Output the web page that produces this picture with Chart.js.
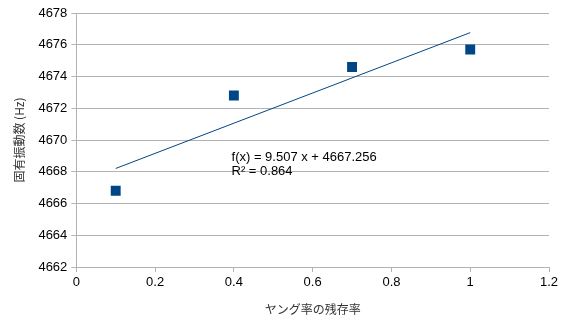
<!DOCTYPE html>
<html>
<head>
<meta charset="utf-8">
<script src="https://cdn.jsdelivr.net/npm/chart.js@4/dist/chart.umd.min.js"></script>
<style>
  html, body { margin: 0; padding: 0; background: #fff; }
  #wrap { width: 564px; height: 328px; position: relative; }
</style>
</head>
<body>
<div id="wrap"><canvas id="freqChart"></canvas></div>
<script>
// measured samples: residual Young's modulus ratio vs natural frequency
const residualRatio = [0.1, 0.4, 0.7, 1.0];
const naturalFreq = [4666.8, 4672.8, 4674.6, 4675.7];

// linear trend line reported with the chart
const trendSlope = 9.507;
const trendIntercept = 4667.256;
const trendR2 = 0.864;

const xTicks = [0, 0.2, 0.4, 0.6, 0.8, 1, 1.2];
const yTicks = [4662, 4664, 4666, 4668, 4670, 4672, 4674, 4676, 4678];

const FONT = "'Liberation Sans', Arial, sans-serif";
const JP_FONT = "'Noto Sans CJK JP', sans-serif";
const BLUE = "#004586";
const GRID = "#b3b3b3";

const xMin = Math.min(...residualRatio);
const xMax = Math.max(...residualRatio);
const trendData = [xMin, xMax].map((x) => ({ x: x, y: trendSlope * x + trendIntercept }));

const equationLabel = {
  id: "equationLabel",
  afterDatasetsDraw(chart) {
    const { ctx } = chart;
    const xs = chart.scales.x;
    const ys = chart.scales.y;
    const px = xs.getPixelForValue(0.394);
    const py = ys.getPixelForValue(4669.33);
    ctx.save();
    ctx.fillStyle = "#000";
    ctx.font = "13px " + FONT;
    ctx.textBaseline = "top";
    ctx.textAlign = "left";
    ctx.fillText("f(x) = " + trendSlope + " x + " + trendIntercept, px, py);
    ctx.fillText("R² = " + trendR2, px, py + 14);
    ctx.restore();
  },
};

new Chart(document.getElementById("freqChart"), {
  type: "scatter",
  data: {
    datasets: [
      {
        label: "固有振動数",
        data: residualRatio.map((x, i) => ({ x: x, y: naturalFreq[i] })),
        pointStyle: "rect",
        pointRadius: 7,
        pointHoverRadius: 7,
        backgroundColor: BLUE,
        borderColor: BLUE,
        borderWidth: 0,
      },
      {
        label: "trend",
        data: trendData,
        showLine: true,
        pointRadius: 0,
        borderColor: BLUE,
        borderWidth: 1,
        fill: false,
      },
    ],
  },
  options: {
    responsive: true,
    maintainAspectRatio: false,
    animation: false,
    layout: { padding: { left: 12, right: 15, top: 13, bottom: 11 } },
    plugins: {
      legend: { display: false },
      tooltip: { enabled: false },
    },
    scales: {
      x: {
        type: "linear",
        min: 0,
        max: 1.2,
        afterBuildTicks: (axis) => { axis.ticks = xTicks.map((v) => ({ value: v })); },
        grid: {
          display: true,
          drawOnChartArea: false,
          drawTicks: true,
          tickLength: 5,
          color: GRID,
        },
        border: { color: GRID },
        ticks: {
          color: "#000",
          font: { family: FONT, size: 13 },
          padding: 3,
          maxRotation: 0,
          callback: (v) => String(v),
        },
        title: {
          display: true,
          text: "ヤング率の残存率",
          color: "#333",
          font: { family: JP_FONT, size: 12 },
          padding: { top: 9, bottom: 0 },
        },
      },
      y: {
        type: "linear",
        min: 4662,
        max: 4678,
        afterBuildTicks: (axis) => { axis.ticks = yTicks.map((v) => ({ value: v })); },
        grid: {
          color: GRID,
          drawTicks: true,
          tickLength: 5,
        },
        border: { color: GRID },
        ticks: {
          color: "#000",
          font: { family: FONT, size: 13 },
          padding: 4,
          callback: (v) => String(v),
        },
        title: {
          display: true,
          text: "固有振動数 (Hz)",
          color: "#333",
          font: { family: JP_FONT, size: 12 },
          padding: { top: 0, bottom: 8 },
        },
      },
    },
  },
  plugins: [equationLabel],
});
</script>
</body>
</html>
